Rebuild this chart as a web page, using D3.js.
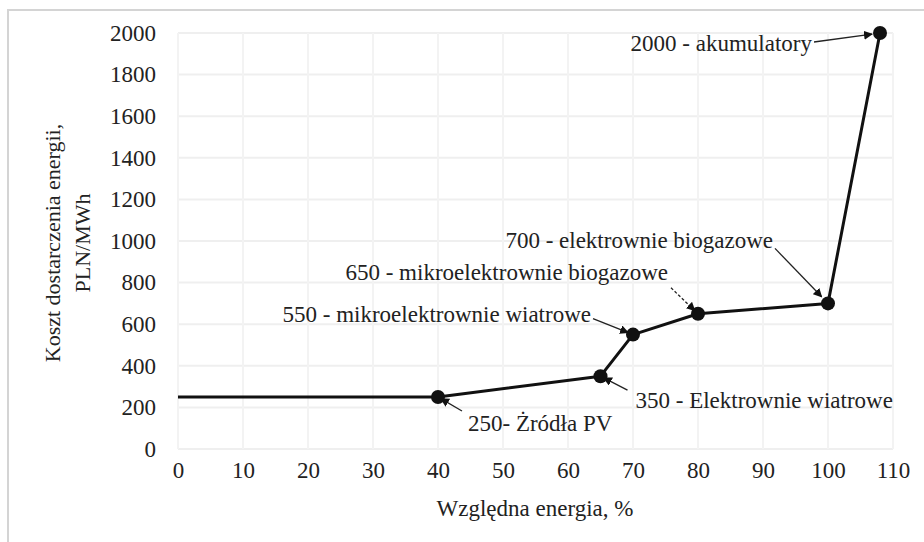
<!DOCTYPE html>
<html>
<head>
<meta charset="utf-8">
<script src="https://cdn.jsdelivr.net/npm/d3@7"></script>
<style>
  body { margin: 0; background: #fff; }
  svg text { fill: #222; }
</style>
</head>
<body>
<svg id="chart"></svg>
<script>
// data
const energyShare = [0, 40, 65, 70, 80, 100, 108];
const supplyCost = [250, 250, 350, 550, 650, 700, 2000];
const pointLabels = [null, '250- Żródła PV', '350 - Elektrownie wiatrowe', '550 - mikroelektrownie wiatrowe',
  '650 - mikroelektrownie biogazowe', '700 - elektrownie biogazowe', '2000 - akumulatory'];
const xTicks = [0, 10, 20, 30, 40, 50, 60, 70, 80, 90, 100, 110];
const yTicks = [0, 200, 400, 600, 800, 1000, 1200, 1400, 1600, 1800, 2000];

// label layout: offset of text anchor and arrow tail from the point (px)
const labelLayout = [
  null,
  { tx: 30, ty: 34, anchor: 'start', ax: 24, ay: 14, dash: null },
  { tx: 35, ty: 32, anchor: 'start', ax: 27, ay: 14, dash: null },
  { tx: -42, ty: -13, anchor: 'end', ax: -40, ay: -16, dash: null },
  { tx: -30, ty: -34, anchor: 'end', ax: -27, ay: -26, dash: '3,2' },
  { tx: -55, ty: -55, anchor: 'end', ax: -53, ay: -55, dash: null },
  { tx: -68, ty: 18, anchor: 'end', ax: -66, ay: 9, dash: null }
];

const width = 924;
const height = 542;
const fontSize = 23;
const serif = "'Liberation Serif', 'DejaVu Serif', serif";

const svg = d3.select('#chart')
    .attr('width', width)
    .attr('height', height)
    .attr('font-family', serif);

// scanned frame
svg.append('rect')
    .attr('x', 8).attr('y', 10)
    .attr('width', width + 10).attr('height', height + 10)
    .attr('fill', '#fff')
    .attr('stroke', '#d4d4d4')
    .attr('stroke-width', 2);

const x = d3.scaleLinear().domain([0, 110]).range([178, 893]);
const y = d3.scaleLinear().domain([0, 2000]).range([449, 33]);

// faint grid
svg.append('g')
  .selectAll('line.h')
  .data(yTicks)
  .join('line')
    .attr('x1', x(0)).attr('x2', x(110))
    .attr('y1', d => y(d)).attr('y2', d => y(d))
    .attr('stroke', '#efefef').attr('stroke-width', 2);

svg.append('g')
  .selectAll('line.v')
  .data(xTicks)
  .join('line')
    .attr('x1', d => x(d)).attr('x2', d => x(d))
    .attr('y1', y(0)).attr('y2', y(2000))
    .attr('stroke', '#f3f3f3').attr('stroke-width', 2);

// axes (labels only)
const xAxis = svg.append('g')
    .attr('transform', `translate(0,${y(0) + 8})`)
    .call(d3.axisBottom(x).tickValues(xTicks).tickFormat(d3.format('d')).tickSize(0).tickPadding(0));
const yAxis = svg.append('g')
    .attr('transform', `translate(${x(0) - 22},0)`)
    .call(d3.axisLeft(y).tickValues(yTicks).tickFormat(d3.format('d')).tickSize(0).tickPadding(0));
[xAxis, yAxis].forEach(g => {
  g.attr('font-family', serif).attr('font-size', fontSize);
  g.select('.domain').remove();
  g.selectAll('text').attr('fill', '#222');
});
xAxis.selectAll('text').attr('dy', '0.9em');

// axis titles
svg.append('text')
    .attr('x', 535).attr('y', 516)
    .attr('text-anchor', 'middle')
    .attr('font-size', fontSize)
    .text('Względna energia, %');

const yTitle = svg.append('text')
    .attr('transform', 'translate(60,243) rotate(-90)')
    .attr('text-anchor', 'middle')
    .attr('font-size', 22);
yTitle.append('tspan').attr('x', 0).attr('dy', 0).text('Koszt dostarczenia energii,');
yTitle.append('tspan').attr('x', 0).attr('dy', 30).text('PLN/MWh');

// series line
const points = energyShare.map((d, i) => ({ x: d, y: supplyCost[i], label: pointLabels[i], lay: labelLayout[i] }));

svg.append('path')
    .datum(points)
    .attr('fill', 'none')
    .attr('stroke', '#111')
    .attr('stroke-width', 3)
    .attr('stroke-linejoin', 'round')
    .attr('d', d3.line().x(d => x(d.x)).y(d => y(d.y)));

// arrowhead
svg.append('defs').append('marker')
    .attr('id', 'arrow')
    .attr('viewBox', '0 0 10 10')
    .attr('refX', 9).attr('refY', 5)
    .attr('markerWidth', 9).attr('markerHeight', 9)
    .attr('markerUnits', 'userSpaceOnUse')
    .attr('orient', 'auto')
  .append('path')
    .attr('d', 'M0,0L10,5L0,10z')
    .attr('fill', '#111');

const labelled = points.filter(d => d.label);

svg.append('g')
  .selectAll('line')
  .data(labelled)
  .join('line')
    .attr('x1', d => x(d.x) + d.lay.ax)
    .attr('y1', d => y(d.y) + d.lay.ay)
    .attr('x2', d => x(d.x) + d.lay.ax * 0.12)
    .attr('y2', d => y(d.y) + d.lay.ay * 0.12)
    .attr('stroke', '#222')
    .attr('stroke-width', 1.3)
    .attr('stroke-dasharray', d => d.lay.dash)
    .attr('marker-end', 'url(#arrow)');

svg.append('g')
  .selectAll('circle')
  .data(labelled)
  .join('circle')
    .attr('cx', d => x(d.x))
    .attr('cy', d => y(d.y))
    .attr('r', 7)
    .attr('fill', '#111');

svg.append('g')
  .selectAll('text')
  .data(labelled)
  .join('text')
    .attr('x', d => x(d.x) + d.lay.tx)
    .attr('y', d => y(d.y) + d.lay.ty)
    .attr('text-anchor', d => d.lay.anchor)
    .attr('font-size', fontSize)
    .text(d => d.label);
</script>
</body>
</html>
